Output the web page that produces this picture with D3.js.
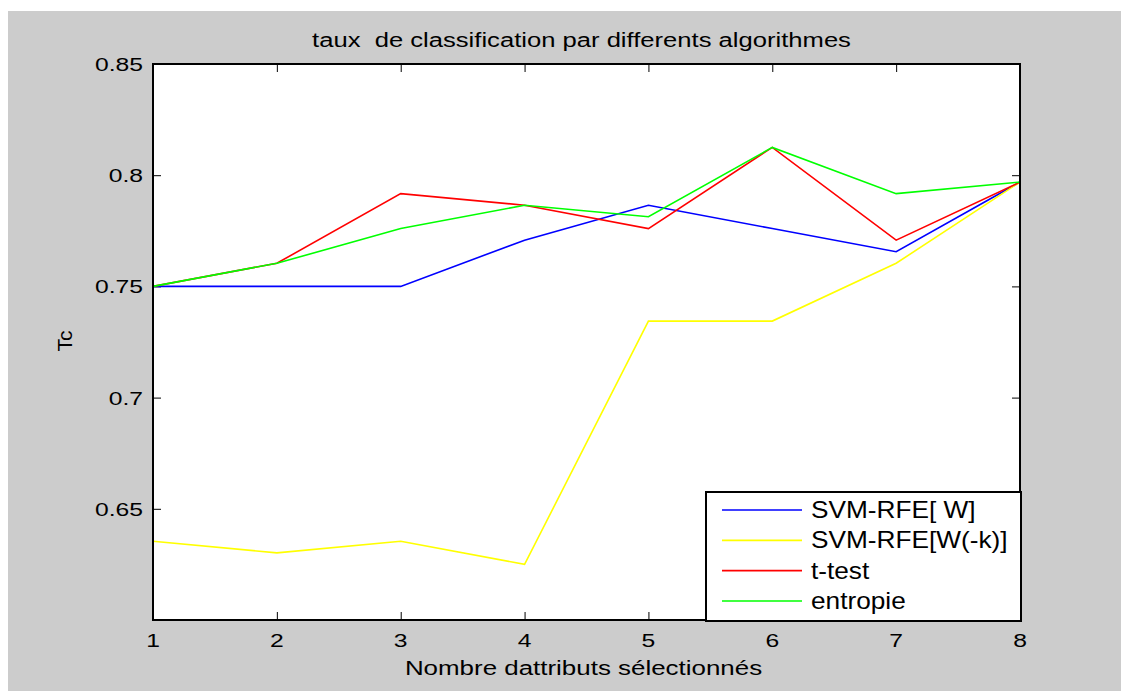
<!DOCTYPE html>
<html>
<head>
<meta charset="utf-8">
<script src="https://cdn.jsdelivr.net/npm/d3@7/dist/d3.min.js"></script>
<style>
  body { margin: 0; background: #ffffff; }
  svg { display: block; }
  text { font-family: "Liberation Sans", Arial, Helvetica, sans-serif; fill: #000; white-space: pre; }
</style>
</head>
<body>
<svg id="chart" width="1121" height="691"></svg>
<script>
// ---- data ----
const xValues = [1, 2, 3, 4, 5, 6, 7, 8];
const svmW     = [0.7500, 0.7500, 0.7500, 0.7708, 0.7865, 0.7760, 0.7656, 0.7969];
const svmWk    = [0.6354, 0.6302, 0.6354, 0.6250, 0.7344, 0.7344, 0.7604, 0.7969];
const tTest    = [0.7500, 0.7604, 0.7917, 0.7865, 0.7760, 0.8125, 0.7708, 0.7969];
const entropie = [0.7500, 0.7604, 0.7760, 0.7865, 0.7813, 0.8125, 0.7917, 0.7969];
const seriesNames = ["SVM-RFE[ W]", "SVM-RFE[W(-k)]", "t-test", "entropie"];
const xTicks = [1, 2, 3, 4, 5, 6, 7, 8];
const yTicks = [0.65, 0.7, 0.75, 0.8, 0.85];
const yTickLabels = ["0.65", "0.7", "0.75", "0.8", "0.85"];
const titleText = "taux  de classification par differents algorithmes";
const xLabelText = "Nombre dattributs sélectionnés";
const yLabelText = "Tc";

// ---- styles / layout ----
const colors = ["#0000ff", "#ffff00", "#ff0000", "#00ff00"];
const seriesData = [svmW, svmWk, tTest, entropie];
const plot = { left: 153, right: 1020, top: 64, bottom: 620 };

const svg = d3.select("#chart");

// figure background
svg.append("rect").attr("x", 8).attr("y", 11).attr("width", 1121 - 8).attr("height", 691 - 11)
  .attr("fill", "#cccccc");

const x = d3.scaleLinear().domain([1, 8]).range([plot.left, plot.right]);
const y = d3.scaleLinear().domain([0.6, 0.85]).range([plot.bottom, plot.top]);

// plot area
svg.append("rect").attr("x", plot.left).attr("y", plot.top)
  .attr("width", plot.right - plot.left).attr("height", plot.bottom - plot.top)
  .attr("fill", "#ffffff");

function stretchedText(g, str, tx, ty, size, sx, anchor) {
  return g.append("text")
    .attr("transform", `translate(${tx},${ty}) scale(${sx},1)`)
    .attr("text-anchor", anchor)
    .attr("xml:space", "preserve")
    .style("font-size", size + "px")
    .text(str);
}

// ticks (inward) via d3 axes
const tickLen = 8;
const axB = svg.append("g").attr("transform", `translate(0,${plot.bottom})`)
  .call(d3.axisBottom(x).tickValues(xTicks).tickSizeInner(-tickLen).tickSizeOuter(0).tickFormat(""));
const axT = svg.append("g").attr("transform", `translate(0,${plot.top})`)
  .call(d3.axisTop(x).tickValues(xTicks).tickSizeInner(-tickLen).tickSizeOuter(0).tickFormat(""));
const axL = svg.append("g").attr("transform", `translate(${plot.left},0)`)
  .call(d3.axisLeft(y).tickValues(yTicks).tickSizeInner(-tickLen).tickSizeOuter(0).tickFormat(""));
const axR = svg.append("g").attr("transform", `translate(${plot.right},0)`)
  .call(d3.axisRight(y).tickValues(yTicks).tickSizeInner(-tickLen).tickSizeOuter(0).tickFormat(""));
[axB, axT, axL, axR].forEach(a => {
  a.select(".domain").remove();
  a.selectAll(".tick line").attr("stroke", "#000").attr("stroke-width", 1);
});

// data lines
const line = d3.line().x((d, i) => x(xValues[i])).y(d => y(d));
seriesData.forEach((s, k) => {
  svg.append("path").datum(s).attr("d", line)
    .attr("fill", "none").attr("stroke", colors[k]).attr("stroke-width", 1.6)
    .attr("stroke-linejoin", "miter");
});

// frame
svg.append("rect").attr("x", plot.left).attr("y", plot.top)
  .attr("width", plot.right - plot.left).attr("height", plot.bottom - plot.top)
  .attr("fill", "none").attr("stroke", "#000").attr("stroke-width", 2);

// tick labels
const labels = svg.append("g");
xTicks.forEach(t => stretchedText(labels, String(t), x(t), 647, 19, 1.3, "middle"));
yTicks.forEach((t, i) => stretchedText(labels, yTickLabels[i], 143, y(t) + 7, 19, 1.3, "end"));

// title & axis labels
stretchedText(svg, titleText, 581.5, 47, 21, 1.22, "middle");
stretchedText(svg, xLabelText, 583.5, 675, 21, 1.235, "middle");
svg.append("text")
  .attr("transform", `translate(72,341) rotate(-90)`)
  .attr("text-anchor", "middle")
  .style("font-size", "21px")
  .text(yLabelText);

// legend
const leg = { x: 706, y: 492, w: 1021 - 706, h: 621 - 492 };
const lg = svg.append("g");
lg.append("rect").attr("x", leg.x).attr("y", leg.y).attr("width", leg.w).attr("height", leg.h)
  .attr("fill", "#ffffff").attr("stroke", "#000").attr("stroke-width", 2);
const rowY = d3.scalePoint().domain(seriesNames).range([510, 601]);
seriesNames.forEach((name, k) => {
  const cy = rowY(name);
  lg.append("line").attr("x1", 722).attr("x2", 802).attr("y1", cy).attr("y2", cy)
    .attr("stroke", colors[k]).attr("stroke-width", 1.6);
  stretchedText(lg, name, 811, cy + 8, 23, 1.14, "start");
});
</script>
</body>
</html>
